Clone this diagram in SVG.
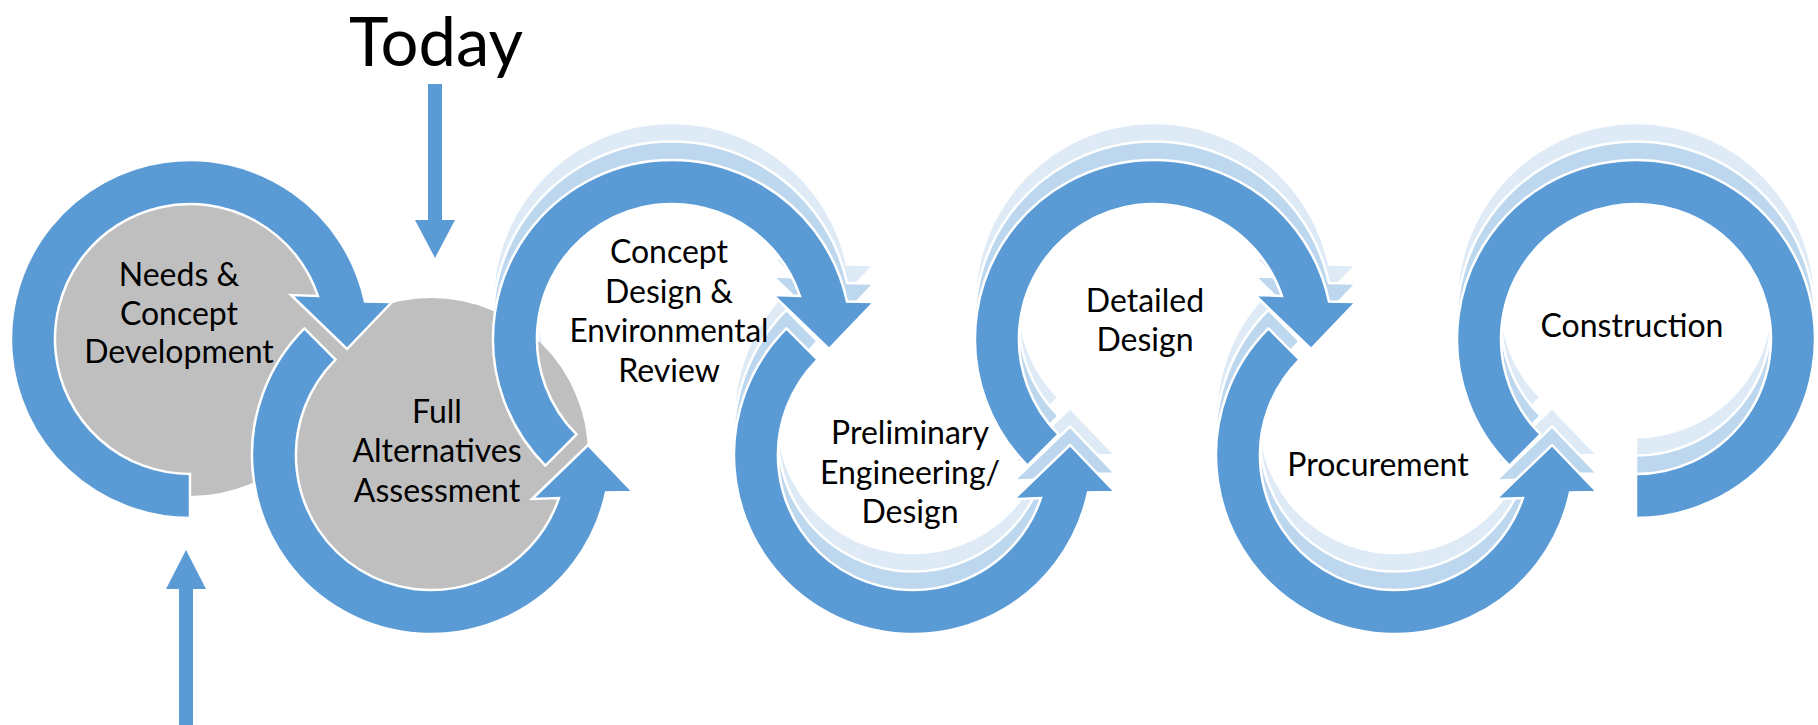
<svg xmlns="http://www.w3.org/2000/svg" width="1818" height="725" viewBox="0 0 1818 725">
<style>
.main{fill:#5B9BD5;stroke:#FFFFFF;stroke-width:2.5;stroke-linejoin:miter}
.c1{fill:#BDD7EE;stroke:#FFFFFF;stroke-width:2.5;stroke-linejoin:miter}
.c2{fill:#DEEBF7;stroke:#FFFFFF;stroke-width:2.5;stroke-linejoin:miter}
.disk{fill:#BFBFBF}
.lbl{font-family:Lato,"Open Sans","Liberation Sans",sans-serif;font-size:32px;fill:#000000;text-anchor:middle}
.big{font-family:Lato,"Open Sans","Liberation Sans",sans-serif;font-size:67px;fill:#000000;text-anchor:middle}
.ptr{fill:#5B9BD5}
</style>
<defs>
<path id="arcCW" d="M-95.46,95.46 L-126.57,126.57 A179,179 0 1 1 175,-37.5 L202,-37 L157,10 L101,-44 L127.9,-43.1 A135,135 0 1 0 -95.46,95.46 Z"/>
<path id="arcFirst" d="M0,135 L0,179 A179,179 0 1 1 175,-37.5 L202,-37 L157,10 L101,-44 L127.9,-43.1 A135,135 0 1 0 0,135 Z"/>
<path id="arcLast" d="M-95.46,95.46 L-126.57,126.57 A179,179 0 1 1 0,179 L0,135 A135,135 0 1 0 -95.46,95.46 Z"/>
<mask id="hideUnderDisk2" maskUnits="userSpaceOnUse" x="0" y="0" width="1818" height="725">
<rect x="0" y="0" width="1818" height="725" fill="#FFFFFF"/>
<circle cx="431" cy="455" r="157" fill="#000000"/>
</mask>
</defs>

<g id="node-discs">
<circle id="disc-needs" class="disk" cx="190" cy="339" r="157"/>
<circle id="disc-alternatives" class="disk" cx="431" cy="455" r="157"/>
</g>

<g id="connectors">
<g id="arrow-echoes">
<g mask="url(#hideUnderDisk2)">
<use href="#arcCW" class="c2" transform="translate(672,302)"/>
<use href="#arcCW" class="c1" transform="translate(672,320.5)"/>
</g>
<use href="#arcCW" class="c2" transform="translate(913,418) scale(1,-1)"/>
<use href="#arcCW" class="c1" transform="translate(913,436.5) scale(1,-1)"/>
<use href="#arcCW" class="c2" transform="translate(1154,302)"/>
<use href="#arcCW" class="c1" transform="translate(1154,320.5)"/>
<use href="#arcCW" class="c2" transform="translate(1395,418) scale(1,-1)"/>
<use href="#arcCW" class="c1" transform="translate(1395,436.5) scale(1,-1)"/>
<use href="#arcLast" class="c2" transform="translate(1636,302)"/>
<use href="#arcLast" class="c1" transform="translate(1636,320.5)"/>
</g>
<g id="cycle-arrows">
<use href="#arcFirst" class="main" transform="translate(190,339)"/>
<use href="#arcCW" class="main" transform="translate(431,455) scale(1,-1)"/>
<use href="#arcCW" class="main" transform="translate(672,339)"/>
<use href="#arcCW" class="main" transform="translate(913,455) scale(1,-1)"/>
<use href="#arcCW" class="main" transform="translate(1154,339)"/>
<use href="#arcCW" class="main" transform="translate(1395,455) scale(1,-1)"/>
<use href="#arcLast" class="main" transform="translate(1636,339)"/>
</g>
<polygon id="today-pointer" class="ptr" points="428,84 442,84 442,220 455,220 435,258 415,220 428,220"/>
<polygon id="start-pointer" class="ptr" points="179,725 193,725 193,589 206,589 186,550 166,589 179,589"/>
</g>

<g id="node-needs">
<text class="lbl" x="179" y="286">Needs &amp;</text>
<text class="lbl" x="179" y="325">Concept</text>
<text class="lbl" x="179" y="363">Development</text>
</g>

<g id="node-alternatives">
<text class="lbl" x="437" y="423">Full</text>
<text class="lbl" x="437" y="462">Alternatives</text>
<text class="lbl" x="437" y="502">Assessment</text>
</g>

<g id="node-concept-design">
<text class="lbl" x="669" y="263">Concept</text>
<text class="lbl" x="669" y="303">Design &amp;</text>
<text class="lbl" x="669" y="342" textLength="199" lengthAdjust="spacingAndGlyphs">Environmental</text>
<text class="lbl" x="669" y="382">Review</text>
</g>

<g id="node-preliminary">
<text class="lbl" x="910" y="444">Preliminary</text>
<text class="lbl" x="910" y="484">Engineering/</text>
<text class="lbl" x="910" y="523">Design</text>
</g>

<g id="node-detailed">
<text class="lbl" x="1145" y="312">Detailed</text>
<text class="lbl" x="1145" y="351">Design</text>
</g>

<g id="node-procurement">
<text class="lbl" x="1378" y="476">Procurement</text>
</g>

<g id="node-construction">
<text class="lbl" x="1632" y="337">Construction</text>
</g>

<g id="label-today">
<text class="big" x="436" y="66">Today</text>
</g>
</svg>
